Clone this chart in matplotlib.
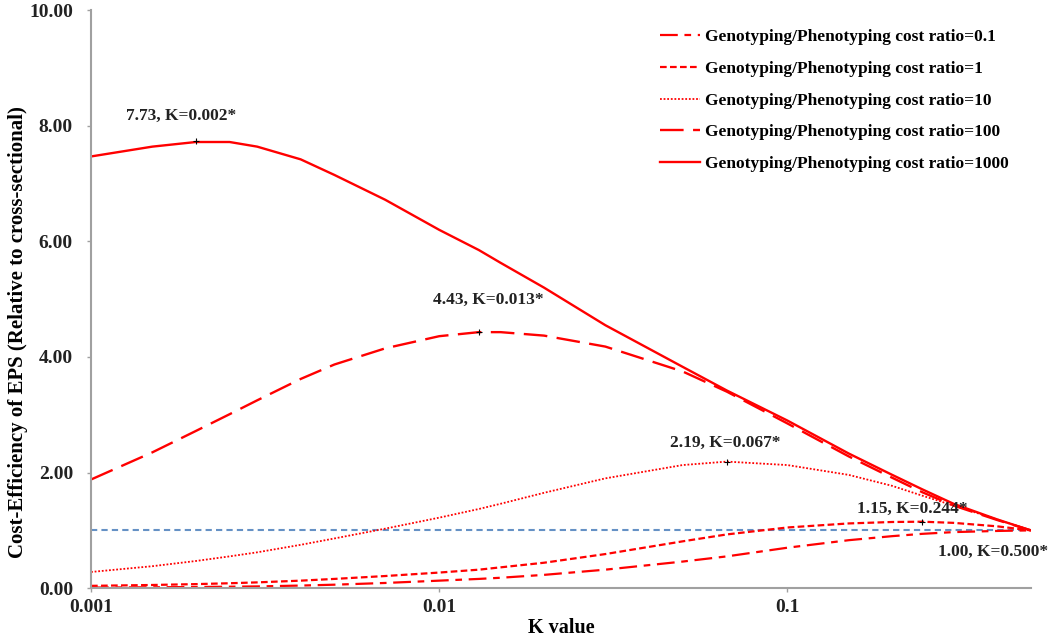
import matplotlib
matplotlib.use("Agg")
import matplotlib.pyplot as plt
from matplotlib.ticker import FixedLocator, FuncFormatter, NullLocator

# K values (log axis) and cost-efficiency curves
k_values = [0.001, 0.0015, 0.002, 0.0025, 0.003, 0.004, 0.005, 0.007, 0.01, 0.013,
            0.015, 0.02, 0.03, 0.05, 0.067, 0.1, 0.15, 0.2, 0.244, 0.3, 0.4, 0.5]
ratio_01 = [0.01, 0.015, 0.02, 0.025, 0.03, 0.045, 0.06, 0.09, 0.13, 0.16,
            0.18, 0.23, 0.32, 0.46, 0.55, 0.70, 0.83, 0.90, 0.94, 0.97, 0.99, 1.00]
ratio_1 = [0.04, 0.055, 0.07, 0.085, 0.10, 0.13, 0.16, 0.21, 0.27, 0.32,
           0.36, 0.44, 0.59, 0.81, 0.93, 1.05, 1.12, 1.145, 1.15, 1.13, 1.07, 1.00]
ratio_10 = [0.28, 0.38, 0.47, 0.55, 0.62, 0.75, 0.86, 1.03, 1.22, 1.37,
            1.46, 1.65, 1.90, 2.13, 2.19, 2.13, 1.96, 1.77, 1.60, 1.43, 1.19, 1.00]
ratio_100 = [1.88, 2.35, 2.72, 3.01, 3.25, 3.62, 3.87, 4.15, 4.36, 4.43,
             4.43, 4.37, 4.18, 3.75, 3.40, 2.85, 2.28, 1.91, 1.66, 1.43, 1.18, 1.00]
ratio_1000 = [7.47, 7.64, 7.72, 7.72, 7.64, 7.42, 7.15, 6.72, 6.20, 5.85,
              5.63, 5.20, 4.55, 3.83, 3.42, 2.90, 2.33, 1.96, 1.71, 1.46, 1.19, 1.00]

series_labels = ["Genotyping/Phenotyping cost ratio=0.1",
                 "Genotyping/Phenotyping cost ratio=1",
                 "Genotyping/Phenotyping cost ratio=10",
                 "Genotyping/Phenotyping cost ratio=100",
                 "Genotyping/Phenotyping cost ratio=1000"]

# optimum points and their labels
peak_k = [0.002, 0.013, 0.067, 0.244]
peak_val = [7.73, 4.43, 2.19, 1.15]
note_text = ["7.73, K=0.002*", "4.43, K=0.013*", "2.19, K=0.067*",
             "1.15, K=0.244*", "1.00, K=0.500*"]
note_k = [0.00182, 0.0138, 0.0665, 0.228, 0.39]
note_y = [8.18, 4.98, 2.51, 1.38, 0.62]

y_ticks = [0, 2, 4, 6, 8, 10]
x_ticks = [0.001, 0.01, 0.1]

serif = "Liberation Serif"
red = "#ff0000"

fig = plt.figure(figsize=(10.5, 6.4), dpi=100)
ax = fig.add_axes([0.0867, 0.081, 0.895, 0.903])

ax.plot(k_values, ratio_01, color=red, lw=1.6, dashes=(8, 3, 3, 3), label=series_labels[0])
ax.plot(k_values, ratio_1, color=red, lw=1.6, dashes=(3, 1.5), label=series_labels[1])
ax.plot(k_values, ratio_10, color=red, lw=1.3, dashes=(1, 1), label=series_labels[2])
ax.plot(k_values, ratio_100, color=red, lw=1.7, dashes=(10, 4), label=series_labels[3])
ax.plot(k_values, ratio_1000, color=red, lw=1.7, label=series_labels[4])

# reference line (cross-sectional = 1)
ax.plot([k_values[0], k_values[-1]], [1, 1], color="#4a7ebb", lw=1.5,
        dashes=(3, 2), alpha=0.85, zorder=1)

ax.plot(peak_k, peak_val, "k+", ms=4, mew=0.8)
for t, kx, ky in zip(note_text, note_k, note_y):
    ax.text(kx, ky, t, ha="center", va="center", fontsize=12.5,
            fontweight="bold", family=serif, color="#222222")

ax.set_xscale("log")
ax.set_xlim(0.001, 0.5)
ax.set_ylim(0, 10)
ax.xaxis.set_major_locator(FixedLocator(x_ticks))
ax.xaxis.set_minor_locator(NullLocator())
ax.xaxis.set_major_formatter(FuncFormatter(lambda v, p: f"{v:g}"))
ax.yaxis.set_major_locator(FixedLocator(y_ticks))
ax.yaxis.set_major_formatter(FuncFormatter(lambda v, p: f"{v:.2f}"))

for side in ["top", "right"]:
    ax.spines[side].set_visible(False)
for side in ["left", "bottom"]:
    ax.spines[side].set_color("#a0a0a0")
    ax.spines[side].set_linewidth(1.5)
ax.tick_params(axis="both", colors="#a0a0a0", length=3, width=1,
               labelcolor="#222222", labelsize=14)
ax.tick_params(axis="x", pad=5)
ax.tick_params(axis="y", pad=10)
for lab in ax.get_xticklabels() + ax.get_yticklabels():
    lab.set_family(serif)
    lab.set_fontweight("bold")

ax.set_xlabel("K value", family=serif, fontweight="bold", fontsize=14.5, va="center")
ax.xaxis.set_label_coords(0.5, -0.069)
ax.set_ylabel("Cost-Efficiency of EPS (Relative to cross-sectional)", family=serif,
              fontweight="bold", fontsize=15, va="center")
ax.yaxis.set_label_coords(-0.078, 0.443)

leg = ax.legend(loc="upper left", bbox_to_anchor=(660 / 1050, 1 - 29 / 640),
                bbox_transform=fig.transFigure, frameon=False, borderpad=0,
                borderaxespad=0,
                prop={"family": serif, "weight": "bold", "size": 12.5},
                handlelength=2.3, handletextpad=0.3, labelspacing=0.9)

fig.savefig("out.png", dpi=100)
